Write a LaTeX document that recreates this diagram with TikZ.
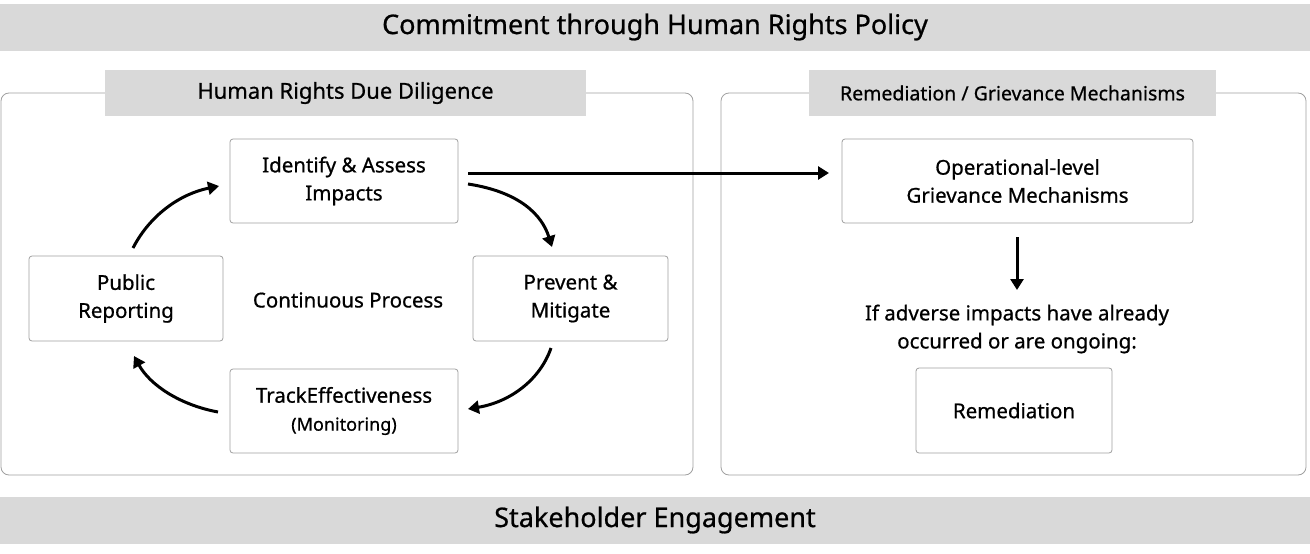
\documentclass[tikz,border=0pt]{standalone}
\usepackage{fontspec}
\setmainfont{Noto Sans}[FakeBold=0.7]
\usetikzlibrary{arrows.meta}
\definecolor{bar}{HTML}{D9D9D9}
\definecolor{edge}{HTML}{A0A0A0}
\tikzset{
  bx/.style={draw=edge,line width=0.8pt,rounded corners=3pt,fill=white,align=center,font=\bfseries\fontsize{20.5}{28}\selectfont},
  bar/.style={fill=bar,draw=none,inner sep=0pt},
  panel/.style={draw=edge,line width=0.8pt,rounded corners=8pt},
  arr/.style={line width=3pt,-{Triangle[length=11pt,width=13pt]}},
  lbl/.style={font=\bfseries\fontsize{20.5}{28}\selectfont,align=center}
}
\begin{document}
\begin{tikzpicture}[x=1pt,y=-1pt]
\useasboundingbox (0,0) rectangle (1310,554);
\fill[white] (0,0) rectangle (1310,554);
\node[bar,minimum width=1310pt,minimum height=47pt,font=\bfseries\fontsize{27}{30}\selectfont] (top) at (655,27) {Commitment through Human Rights Policy};
\node[bar,minimum width=1310pt,minimum height=47pt,font=\bfseries\fontsize{27}{30}\selectfont] (bot) at (655,520) {Stakeholder Engagement};
\draw[panel] (1,93) rectangle (693,475);
\draw[panel] (721,93) rectangle (1306,475);
\node[bar,minimum width=481pt,minimum height=46pt,font=\bfseries\fontsize{22}{26}\selectfont] (hrdd) at (345.5,93) {Human Rights Due Diligence};
\node[bar,minimum width=407pt,minimum height=46pt,font=\bfseries\fontsize{19.5}{24}\selectfont] (rgm) at (1012.5,93) {Remediation / Grievance Mechanisms};
\node[bx,minimum width=228pt,minimum height=84pt] (id) at (344,181) {Identify \& Assess\\Impacts};
\node[bx,minimum width=195pt,minimum height=85pt] (pm) at (570.5,298.5) {Prevent \&\\Mitigate};
\node[bx,minimum width=228pt,minimum height=84pt] (tr) at (344,411) {TrackEffectiveness\\{\fontsize{18}{22}\selectfont(Monitoring)}};
\node[bx,minimum width=194pt,minimum height=85pt] (pr) at (126,298.5) {Public\\Reporting};
\node[lbl] (cp) at (348,300) {Continuous Process};
\node[bx,minimum width=351pt,minimum height=84pt] (op) at (1017.5,181) {Operational-level\\Grievance Mechanisms};
\node[lbl] (adv) at (1017,329) {If adverse impacts have already\\occurred or are ongoing:};
\node[bx,minimum width=196pt,minimum height=85pt] (rem) at (1014,410.5) {Remediation};
\coordinate (dtop) at (1017,237);
\coordinate (dbot) at (1017,290);
\draw[arr] (dtop) -- (dbot);
\coordinate (la) at (468,173);
\coordinate (lb) at (829,173);
\draw[arr] (la) -- (lb);
\coordinate (c1a) at (468,184); \coordinate (c1b) at (552,247);
\coordinate (c2a) at (551,348); \coordinate (c2b) at (468,409);
\coordinate (c3a) at (218,412); \coordinate (c3b) at (134,356);
\coordinate (c4a) at (133,248); \coordinate (c4b) at (219,186);
\draw[arr] (c1a) .. controls (520,192) and (542,215) .. (c1b);
\draw[arr] (c2a) .. controls (540,380) and (510,402) .. (c2b);
\draw[arr] (c3a) .. controls (180,405) and (150,385) .. (c3b);
\draw[arr] (c4a) .. controls (150,215) and (180,194) .. (c4b);
\end{tikzpicture}
\end{document}
